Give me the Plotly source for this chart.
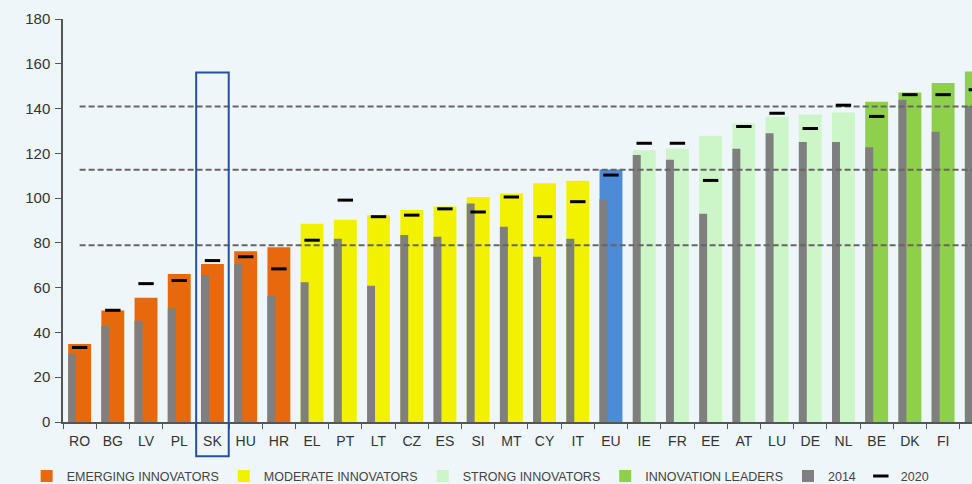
import plotly.graph_objects as go

# ---------------- data ----------------
categories = ["RO", "BG", "LV", "PL", "SK", "HU", "HR", "EL", "PT", "LT", "CZ", "ES",
              "SI", "MT", "CY", "IT", "EU", "IE", "FR", "EE", "AT", "LU", "DE", "NL",
              "BE", "DK", "FI", "SE"]
groups = (["emerging"] * 7 + ["moderate"] * 9 + ["eu"] + ["strong"] * 7 + ["leaders"] * 4)
score_current = [34.8, 49.8, 55.5, 66.1, 70.6, 76.3, 78.1, 88.5, 90.3, 92.3, 94.7, 96.3,
                 100.5, 102.1, 106.6, 107.8, 112.8, 121.4, 122.1, 127.9, 133.3, 136.3, 137.3, 138.2,
                 143.0, 147.2, 151.4, 156.5]
score_2014 = [30.5, 42.9, 45.2, 50.8, 65.7, 70.6, 56.3, 62.4, 81.8, 60.9, 83.5, 82.7,
              97.6, 87.2, 73.8, 81.8, 99.6, 119.3, 117.1, 93.0, 122.1, 129.0, 125.1, 125.1,
              122.7, 143.9, 129.6, 141.1]
score_2020 = [33.3, 49.9, 61.8, 63.2, 72.1, 73.8, 68.4, 81.2, 99.1, 91.7, 92.4, 95.2,
              93.8, 100.5, 91.7, 98.4, 110.3, 124.5, 124.5, 107.9, 132.0, 137.9, 131.1, 141.5,
              136.5, 146.2, 146.2, 148.4]
thresholds = [78.9, 112.7, 140.9]
highlight = "SK"

group_names = {
    "emerging": "EMERGING INNOVATORS",
    "moderate": "MODERATE INNOVATORS",
    "strong": "STRONG INNOVATORS",
    "leaders": "INNOVATION LEADERS",
    "eu": "EU",
}
group_colors = {
    "emerging": "#E8690D",
    "moderate": "#F2F200",
    "eu": "#4D8BD6",
    "strong": "#CCF5C8",
    "leaders": "#8ED04C",
}
order = ["emerging", "moderate", "eu", "strong", "leaders"]

FONT = "Liberation Sans, Arial, sans-serif"
BG = "#EFF6F9"

fig = go.Figure()

for g in order:
    xs = [c for c, gg in zip(categories, groups) if gg == g]
    ys = [v for v, gg in zip(score_current, groups) if gg == g]
    fig.add_trace(go.Bar(
        x=xs, y=ys, name=group_names[g],
        marker=dict(color=group_colors[g], line=dict(width=0)),
        width=0.69, offset=-0.345,
        showlegend=(g != "eu"),
    ))

fig.add_trace(go.Bar(
    x=categories, y=score_2014, name="2014",
    marker=dict(color="#7F7F7F", line=dict(width=0)),
    width=0.24, offset=-0.345,
))

for t in thresholds:
    fig.add_trace(go.Scatter(
        x=[categories[0], categories[-1]], y=[t, t], mode="lines",
        line=dict(color="#666666", width=2, dash="6px,3px"),
        showlegend=False, hoverinfo="skip",
    ))

fig.add_trace(go.Scatter(
    x=categories, y=score_2020, name="2020", mode="markers",
    marker=dict(symbol="line-ew", size=11, color="black",
                line=dict(color="black", width=3)),
))

idx = categories.index(highlight)
fig.add_shape(type="rect", xref="x", yref="y domain",
              x0=idx - 0.49, x1=idx + 0.49, y0=-0.085, y1=0.867,
              line=dict(color="#2452A0", width=2), fillcolor="rgba(0,0,0,0)",
              layer="above")

fig.update_layout(
    width=972, height=484,
    margin=dict(l=63, r=0, t=19, b=62, autoexpand=False),
    paper_bgcolor=BG, plot_bgcolor=BG,
    barmode="overlay",
    font=dict(family=FONT, size=14, color="#333333"),
    legend=dict(orientation="h", x=-0.040, xanchor="left", y=-0.135, yanchor="middle",
                font=dict(size=12.5, color="#444444"), bgcolor="rgba(0,0,0,0)",
                itemwidth=30, traceorder="normal"),
    xaxis=dict(type="category", categoryorder="array", categoryarray=categories,
               range=[-0.5, 26.87], showgrid=False, zeroline=False,
               showline=True, linecolor="#555555", linewidth=1.5,
               ticks="outside", tickson="boundaries", ticklen=5, tickcolor="#555555",
               ticklabelstandoff=5,
               tickfont=dict(size=14, color="#333333")),
    yaxis=dict(range=[0, 180], dtick=20, showgrid=False, zeroline=False,
               showline=True, linecolor="#555555", linewidth=1.5,
               ticks="outside", ticklen=6, tickcolor="#555555",
               ticklabelstandoff=2,
               tickfont=dict(size=15, color="#333333")),
)

fig.write_html(
    "out.html",
    config={"displayModeBar": False},
    post_script="document.body.style.margin='0px';document.body.style.background='%s';"
                "document.body.style.overflow='hidden';" % BG,
)
